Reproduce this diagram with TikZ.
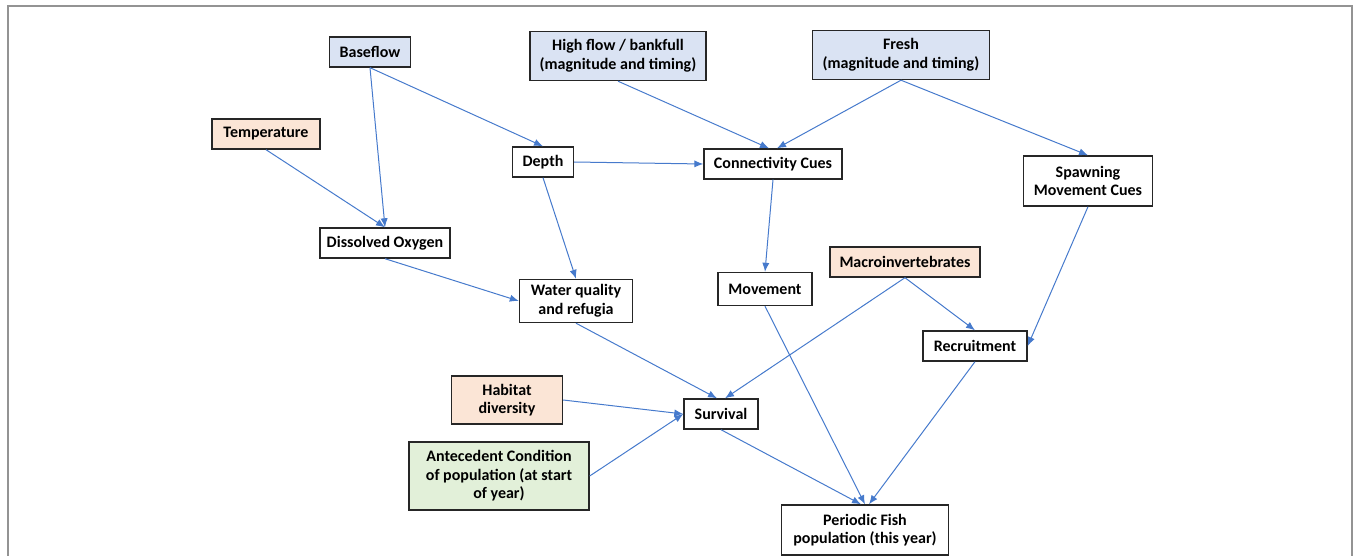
\documentclass[tikz,border=0pt]{standalone}
\usepackage{fontspec}
\setmainfont{Carlito}
\usetikzlibrary{arrows.meta}

\definecolor{flowblue}{RGB}{218,227,243}
\definecolor{driverpink}{RGB}{251,229,214}
\definecolor{condgreen}{RGB}{226,240,217}
\definecolor{linkblue}{RGB}{70,122,204}

\tikzset{%
  box/.style={draw=black!85, line width=0.7pt, fill=white, font=\fontsize{8}{9.3}\selectfont\bfseries, align=center, inner sep=1pt, minimum height=15pt},
  flow/.style={box, fill=flowblue},
  driver/.style={box, fill=driverpink},
  antec/.style={box, fill=condgreen},
  line/.style={draw, color=linkblue, line width=0.5pt, -{Latex[length=4.5pt,width=3.6pt]}},
}

\begin{document}
\begin{tikzpicture}[x=0.5pt, y=-0.5pt]
\useasboundingbox (0,0) rectangle (1356,556);
\draw[gray!85, line width=0.6pt] (8,556) -- (8,6) -- (1352,6) -- (1352,556);

\node[flow, minimum width=40.5pt] (1) at (370,52) {Baseflow};
\node[driver, minimum width=54pt] (2) at (266,134) {Temperature};
\node[box, minimum width=65pt] (3) at (385,243) {Dissolved Oxygen};
\node[flow, minimum width=88pt, minimum height=24.5pt] (4) at (618,56) {High flow / bankfull\\(magnitude and timing)};
\node[flow, minimum width=88.5pt, minimum height=24.5pt] (5) at (901,55) {Fresh\\(magnitude and timing)};
\node[box, minimum width=30.5pt] (6) at (543,162) {Depth};
\node[box, minimum width=69pt] (7) at (773,164) {Connectivity Cues};
\node[box, minimum width=64.5pt, minimum height=25pt] (8) at (1088,181) {Spawning\\Movement Cues};
\node[box, minimum width=56.5pt, minimum height=21.5pt] (9) at (576,301) {Water quality\\and refugia};
\node[box, minimum width=47pt, minimum height=16.5pt] (10) at (765,289) {Movement};
\node[driver, minimum width=75pt] (11) at (905,262) {Macroinvertebrates};
\node[box, minimum width=52pt] (12) at (975,346) {Recruitment};
\node[driver, minimum width=55.5pt, minimum height=24pt] (13) at (507,400) {Habitat\\diversity};
\node[box, minimum width=37pt] (14) at (721,414) {Survival};
\node[antec, minimum width=90pt, minimum height=34pt] (15) at (499,476) {Antecedent Condition\\of population (at start\\of year)};
\node[box, minimum width=83.5pt, minimum height=25pt] (16) at (865,530) {Periodic Fish\\population (this year)};

\draw[line] (1.south) -- (3.north);
\draw[line] (1.south) -- (6.north);
\draw[line] (2.south) -- (3.north);
\draw[line] (3.south) -- (9.west);
\draw[line] (6.east) -- (7.west);
\draw[line] (6.south) -- (9.north);
\draw[line] (4.south) -- ([xshift=-2pt]7.north);
\draw[line] (5.south) -- ([xshift=2pt]7.north);
\draw[line] (5.south) -- (8.north);
\draw[line] (7.south) -- (10.north);
\draw[line] (8.south) -- (12.east);
\draw[line] (11.south) -- (12.north);
\draw[line] (11.south) -- ([xshift=2pt]14.north);
\draw[line] (9.south) -- ([xshift=-2pt]14.north);
\draw[line] (13.east) -- (14.west);
\draw[line] (15.east) -- (14.west);
\draw[line] (10.south) -- (16.north);
\draw[line] (14.south) -- ([xshift=-2pt]16.north);
\draw[line] (12.south) -- ([xshift=2pt]16.north);
\end{tikzpicture}
\end{document}
